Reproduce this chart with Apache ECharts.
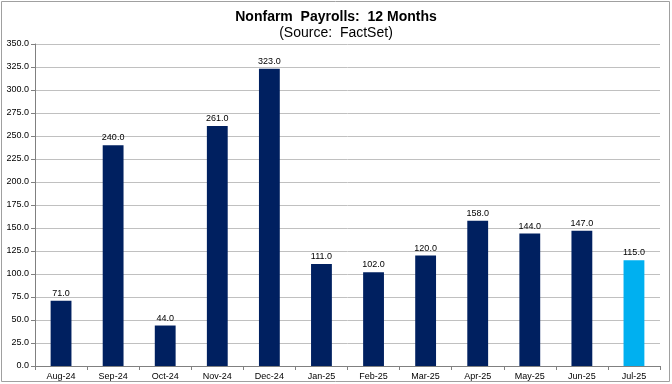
<!DOCTYPE html>
<html><head><meta charset="utf-8">
<script src="https://cdn.jsdelivr.net/npm/echarts@6/dist/echarts.min.js"></script>
<style>html,body{margin:0;padding:0;background:#fff}#c{width:672px;height:384px}</style>
</head><body><div id="c"></div>
<script>
const categories = ['Aug-24','Sep-24','Oct-24','Nov-24','Dec-24','Jan-25','Feb-25','Mar-25','Apr-25','May-25','Jun-25','Jul-25'];
const payrolls = [71.0, 240.0, 44.0, 261.0, 323.0, 111.0, 102.0, 120.0, 158.0, 144.0, 147.0, 115.0];
const highlightIndex = 11;
const yTicks = {min: 0, max: 350, interval: 25};

const chart = echarts.init(document.getElementById('c'), null, {renderer: 'canvas'});
chart.setOption({
  animation: false,
  backgroundColor: '#fff',
  title: [
    {text: 'Nonfarm  Payrolls:  12 Months', left: 'center', top: 5,
     textStyle: {fontFamily: 'Liberation Sans, Arial', fontSize: 14, fontWeight: 'bold', color: '#000'}},
    {text: '(Source:  FactSet)', left: 'center', top: 21,
     textStyle: {fontFamily: 'Liberation Sans, Arial', fontSize: 14, fontWeight: 'normal', color: '#000'}}
  ],
  graphic: [{type: 'rect', shape: {x: 1.5, y: 1.5, width: 668, height: 380},
    style: {fill: 'none', stroke: '#a0a0a0', lineWidth: 1}}],
  grid: {left: 35, right: 12, top: 44, bottom: 18},
  xAxis: {
    type: 'category', data: categories,
    axisLine: {lineStyle: {color: '#808080'}},
    axisTick: {show: true, alignWithLabel: false, length: 4, lineStyle: {color: '#808080'}},
    axisLabel: {fontFamily: 'Liberation Sans, Arial', fontSize: 9, color: '#000', margin: 6}
  },
  yAxis: {
    type: 'value', min: yTicks.min, max: yTicks.max, interval: yTicks.interval,
    axisLine: {show: true, lineStyle: {color: '#808080'}},
    axisTick: {show: true, length: 4, lineStyle: {color: '#808080'}},
    splitLine: {lineStyle: {color: '#c0c0c0'}},
    axisLabel: {fontFamily: 'Liberation Sans, Arial', fontSize: 9, color: '#000', margin: 6,
      formatter: v => v.toFixed(1)}
  },
  series: [{
    type: 'bar', barWidth: '40%',
    data: payrolls.map((v, i) => ({value: v, itemStyle: {color: i === highlightIndex ? '#00B0F0' : '#002060'}})),
    label: {show: true, position: 'top', distance: 3, fontFamily: 'Liberation Sans, Arial', fontSize: 9, color: '#000',
      formatter: p => p.value.toFixed(1)}
  }]
});
</script></body></html>
